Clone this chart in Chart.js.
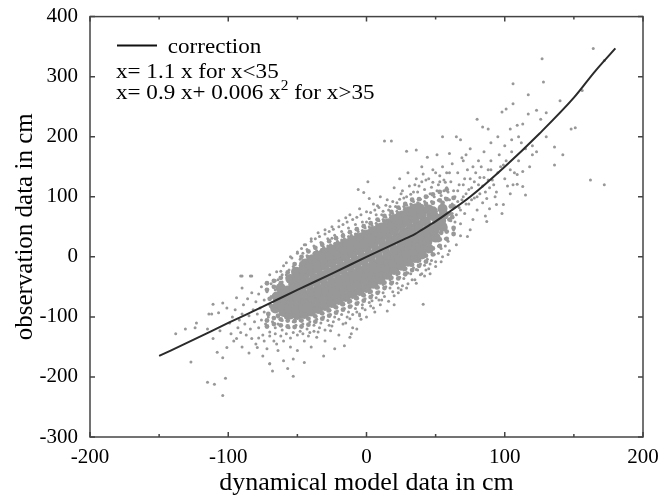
<!DOCTYPE html>
<html>
<head>
<meta charset="utf-8">
<script src="https://cdn.jsdelivr.net/npm/chart.js@4.4.0/dist/chart.umd.min.js"></script>
<style>
  html, body { margin: 0; padding: 0; background: #fff; }
</style>
</head>
<body>
<canvas id="chart" width="661" height="498"></canvas>
<script>
// correction curve
const curveX = [-150, -125, -100, -75, -50, -25, 0, 25, 35, 40, 45, 50, 60, 75, 100, 125, 150, 165, 180];
const curveY = [-165, -138, -110, -83, -55, -28, 0, 27, 38, 45, 52, 59, 75, 100, 150, 205, 265, 308, 347];

// dense core of the cloud, column by column
const coreX = [
  -66, -64, -65,
  -60, -61, -59, -60, -62,
  -55, -56, -54, -55, -57, -53, -55,
  -50, -51, -49, -50, -52, -48, -50, -51,
  -45, -46, -44, -45, -47, -43, -45, -46, -44,
  -40, -41, -39, -40, -42, -38, -40, -41, -39,
  -35, -36, -34, -35, -37, -33, -35, -36, -34,
  -30, -31, -29, -30, -32, -28, -30, -31, -29,
  -25, -26, -24, -25, -27, -23, -25, -26, -24,
  -20, -21, -19, -20, -22, -18, -20, -21, -19,
  -15, -16, -14, -15, -17, -13, -15, -16, -14,
  -10, -11, -9, -10, -12, -8, -10, -11, -9,
  -5, -6, -4, -5, -7, -3, -5, -6, -4,
  0, -1, 1, 0, -2, 2, 0, -1, 1,
  5, 4, 6, 5, 3, 7, 5, 4, 6,
  10, 9, 11, 10, 8, 12, 10, 9, 11,
  15, 14, 16, 15, 13, 17, 15, 14, 16,
  20, 19, 21, 20, 18, 22, 20, 19, 21,
  25, 24, 26, 25, 23, 27, 25, 24, 26,
  30, 29, 31, 30, 28, 32, 30, 29, 31,
  35, 34, 36, 35, 33, 37, 35, 34, 36,
  40, 39, 41, 40, 38, 42, 40, 39,
  45, 44, 46, 45, 43, 47, 45,
  50, 49, 51, 50, 48,
  55, 54, 56, 55
];
const coreY = [
  -86, -76, -66,
  -92, -82, -72, -62, -52,
  -96, -86, -76, -66, -56, -46, -37,
  -97, -87, -77, -66, -56, -45, -35, -25,
  -95, -85, -74, -63, -53, -42, -31, -21, -11,
  -91, -80, -69, -58, -47, -36, -25, -14, -4,
  -87, -76, -64, -53, -42, -31, -20, -9, 2,
  -82, -71, -59, -48, -37, -26, -15, -4, 7,
  -77, -66, -54, -43, -32, -21, -10, 1, 12,
  -72, -61, -49, -38, -27, -16, -5, 6, 17,
  -67, -55, -44, -33, -22, -11, 0, 11, 22,
  -62, -50, -39, -28, -17, -6, 5, 16, 27,
  -57, -45, -34, -23, -12, -1, 10, 21, 32,
  -52, -40, -29, -18, -7, 4, 15, 26, 37,
  -45, -34, -23, -12, -1, 10, 21, 32, 43,
  -38, -27, -16, -5, 6, 17, 28, 39, 49,
  -30, -19, -8, 3, 14, 25, 36, 47, 56,
  -22, -11, 0, 11, 22, 33, 44, 55, 63,
  -15, -4, 7, 18, 29, 40, 51, 62, 69,
  -8, 3, 14, 25, 36, 47, 58, 69, 76,
  -2, 9, 20, 31, 42, 53, 64, 75, 81,
  4, 15, 26, 37, 48, 59, 70, 80,
  14, 25, 36, 47, 58, 69, 79,
  32, 43, 54, 65, 76,
  50, 60, 70, 80
];

// half-dense band hugging the core
const upperEdge = [
  [-72,-55],[-72,-44],[-67,-50],[-67,-40],[-62,-44],[-62,-35],[-57,-35],[-57,-26],[-52,-24],[-52,-12],
  [-47,-11],[-47,0],[-42,-1],[-42,9],[-37,6],[-37,15],[-32,11],[-32,20],[-27,16],[-27,26],
  [-22,21],[-22,31],[-17,26],[-17,35],[-12,31],[-12,41],[-7,36],[-7,46],[-2,41],[-2,51],
  [3,46],[3,56],[8,52],[8,62],[13,59],[13,68],[18,66],[18,75],[23,72],[23,82],
  [28,79],[28,88],[33,85],[33,95],[38,87],[38,96],[43,88],[43,100],[48,90],[48,104],
  [53,94],[53,108],[58,96],[58,112],[63,98],[63,84],
  [-70,-70],[-69,-82],[-71,-95],[-64,-98],[-63,-60],[-58,-100],[55,90],[60,62],[60,72],[61,84],
  [52,28],[54,40],[57,48],[62,66]
];
const lowerEdge = [
  [-72,-106],[-72,-116],[-67,-102],[-67,-112],[-62,-104],[-62,-114],[-57,-106],[-57,-116],[-52,-107],[-52,-117],
  [-47,-106],[-47,-116],[-42,-103],[-42,-113],[-37,-99],[-37,-108],[-32,-94],[-32,-103],[-27,-89],[-27,-98],
  [-22,-84],[-22,-93],[-17,-79],[-17,-88],[-12,-74],[-12,-83],[-7,-69],[-7,-78],[-2,-64],[-2,-73],
  [3,-58],[3,-67],[8,-51],[8,-60],[13,-43],[13,-52],[18,-35],[18,-44],[23,-27],[23,-36],
  [28,-20],[28,-29],[33,-13],[33,-22],[38,-6],[38,-15],[43,2],[43,-8],[48,14],[48,4],
  [53,29],[53,18],[58,42],[58,30],[63,48],[63,38]
];

// looser dots further out
const upperFringe = [
  [-64,-48],[-64,-38],[-61,-42],[-61,-30],[-57,-34],[-56,-22],[-53,-28],[-53,-16],[-51,-20],[-48,-14],
  [-48,-4],[-46,-6],[-46,6],[-43,2],[-43,12],[-41,-2],[-38,6],[-38,18],[-36,10],[-33,10],
  [-33,24],[-31,16],[-28,18],[-28,30],[-26,20],[-23,22],[-23,36],[-21,26],[-18,28],[-18,42],
  [-16,30],[-13,34],[-13,48],[-11,36],[-8,38],[-8,54],[-6,42],[-3,44],[-3,58],[-1,48],
  [2,50],[2,64],[4,52],[7,56],[7,70],[9,60],[12,62],[12,76],[14,66],[17,70],
  [17,84],[19,72],[22,76],[22,90],[24,80],[27,84],[27,98],[29,86],[32,88],[32,104],
  [34,92],[37,90],[37,108],[39,96],[42,92],[42,112],[44,100],[47,92],[47,116],[49,100],
  [52,94],[52,120],[54,102],[57,98],[57,124],[59,108],
  [45,130],[50,140],[55,150],[60,140],[62,155],[48,145],[53,125],[66,140],[69,165],[72,170],
  [85,175],[90,145],[100,185],[105,195],[110,200],[115,180],[40,125],[35,120],[25,105],[15,95],
  [8,85],[0,75],[-5,80],[-15,65],[-25,50],[-35,40],[-45,20],[-55,0],[-60,-15],[-65,-25],
  [-58,-10],[-54,-2],[-50,8],[-47,14],[-44,20],[-40,26],[-37,30],[-34,34],[-30,38],[-27,42],
  [-24,46],[-20,50],[-17,54],[-14,58],[-10,62],[-7,66],[-4,70],[0,58],[3,74],[6,78],
  [9,82],[11,70],[14,86],[16,78],[19,92],[21,84],[24,96],[26,110],[29,100],[31,118],
  [34,108],[36,130],[38,118],[41,138],[43,128],[46,105],[48,124],[51,110],[53,135],[56,128],
  [58,140],[61,125],[-62,-24],[-58,-30],[-66,-40],[-70,-30]
];
const lowerFringe = [
  [-64,-100],[-64,-112],[-61,-106],[-61,-122],[-57,-104],[-56,-118],[-53,-108],[-53,-126],[-51,-114],[-48,-106],
  [-48,-124],[-46,-112],[-43,-102],[-43,-120],[-41,-108],[-38,-98],[-38,-114],[-36,-104],[-33,-94],[-33,-110],
  [-31,-100],[-28,-90],[-28,-106],[-26,-96],[-23,-84],[-23,-100],[-21,-90],[-18,-80],[-18,-96],[-16,-86],
  [-13,-76],[-13,-92],[-11,-82],[-8,-70],[-8,-86],[-6,-76],[-3,-64],[-3,-80],[-1,-70],[2,-60],
  [2,-76],[4,-64],[7,-52],[7,-68],[9,-58],[12,-46],[12,-60],[14,-50],[17,-38],[17,-52],
  [19,-42],[22,-30],[22,-44],[24,-34],[27,-22],[27,-36],[29,-26],[32,-14],[32,-28],[34,-18],
  [37,-8],[37,-22],[39,-12],[42,0],[42,-14],[44,-4],[47,8],[47,-6],[49,4],[52,18],
  [52,6],[54,14],[57,30],[57,18],[59,26],
  [-90,-150],[-85,-160],[-75,-165],[-65,-145],[-60,-140],[-55,-150],[-45,-140],[-35,-125],[-25,-115],[-15,-110],
  [-5,-95],[5,-85],[10,-80],[20,-65],[25,-55],[30,-45],[35,-38],[40,-28],[45,-20],[50,-8],
  [55,0],[60,10],[65,20],[68,35],[75,45],
  [-78,-135],[-74,-140],[-70,-132],[-66,-128],[-62,-132],[-58,-128],[-55,-135],[-50,-130],[-46,-128],[-42,-132],
  [-38,-124],[-34,-118],[-30,-122],[-27,-114],[-24,-108],[-20,-104],[-17,-112],[-14,-100],[-10,-96],[-7,-92],
  [-4,-104],[-1,-88],[3,-82],[6,-92],[9,-72],[13,-66],[16,-74],[19,-58],[23,-60],[26,-48],
  [29,-52],[33,-38],[36,-44],[39,-30],[43,-22],[46,-28],[50,-16],[54,-8]
];
const leftTail = [
  [-138,-128],[-131,-120],[-127,-175],[-124,-118],[-123,-110],[-115,-209],[-115,-120],[-114,-95],[-112,-95],[-111,-79],
  [-111,-136],[-110,-212],[-108,-159],[-107,-93],[-106,-123],[-104,-77],[-104,-168],[-104,-231],[-102,-202],[-101,-151],
  [-101,-85],[-99,-110],[-98,-128],[-97,-100],[-96,-140],[-95,-88],[-94,-68],[-94,-136],[-93,-118],[-92,-105],
  [-91,-126],[-91,-32],[-90,-52],[-90,-95],[-89,-80],[-88,-112],[-87,-130],[-86,-70],[-85,-98],[-84,-32],
  [-84,-120],[-83,-136],[-83,-60],[-82,-88],[-81,-108],[-80,-75],[-80,-145],[-79,-151],[-79,-95],[-78,-62],
  [-78,-118],[-77,-85],[-76,-105],[-76,-50],[-75,-130],[-74,-72],[-74,-92],[-73,-112],[-72,-153],[-72,-58],
  [-71,-100],[-70,-80],[-70,-178],[-70,-125],[-69,-45],[-69,-66],[-68,-190],[-68,-108],[-67,-88],[-67,-140],
  [-66,-55],[-66,-118]
];
const rightTail = [
  [61,60],[62,88],[63,45],[64,100],[65,70],[66,110],[67,82],[68,55],[69,95],[70,120],
  [71,72],[72,105],[73,34],[74,88],[75,130],[76,115],[77,62],[78,98],[79,140],[80,78],
  [81,120],[82,105],[83,150],[84,90],[85,132],[86,68],[87,97],[87,59],[88,145],[89,80],
  [89,115],[90,160],[91,128],[92,120],[93,100],[94,108],[94,87],[95,140],[96,170],[97,150],
  [98,72],[99,153],[99,87],[100,130],[101,160],[102,118],[104,145],[104,105],[105,175],[106,120],
  [107,140],[109,137],[109,121],[110,160],[113,142],[113,117],[115,103],[118,150],[120,185],[112,190],
  [62,72],[64,58],[66,92],[68,78],[70,100],[72,88],[74,112],[76,95],[78,125],[80,100],
  [82,132],[84,118],[86,108],[88,128],[60,95],[63,110],[67,120],[71,130],[58,115],[56,110],
  [73,145],[77,150],[81,160]
];
const outliers = [
  [-6,112],[-2,107],[1,125],[2,97],[13,193],[18,193],[24,130],[29,176],[36,178],[44,166],
  [51,170],[55,200],[60,172],[65,200],[68,195],[80,229],[84,216],[88,213],[98,241],[101,246],
  [104,213],[106,255],[106,288],[109,219],[113,221],[117,238],[117,270],[120,170],[123,175],[123,244],
  [126,229],[127,330],[128,291],[130,240],[136,183],[136,153],[142,170],[148,213],[151,215],[156,277],
  [164,347],[172,327],[162,128],[172,120],[-50,6],[-32,23],[-25,31],[-17,38],[-90,-32],[-83,-32],
  [5,88],[10,100],[-12,70],[-20,60],[-30,45],[-40,30],[30,140],[40,150],[20,115],[70,160],
  [75,180],[90,190],[95,200],[140,260],[130,200],
  [41,-79],[42,-32],[23,-52],[11,-72],[-10,-118],[-7,-120],[-11,-128],[-12,-103],[-5,-98],[-3,-85],
  [4,-73],[-53,-199],[-57,-186],[-70,-178],[-60,-173],[-53,-170],[-45,-176],[-50,-156],[-31,-165],[-23,-153],
  [-16,-148],[-12,-134],[-26,-123],[-36,-134],[-41,-126],[-64,-156],[30,-27],[36,-21],[46,-12],[59,4],
  [20,-80],[-20,-130],[-30,-140],[0,-100],[15,-90],[-40,-150]
];

const dotColor = 'rgb(152,152,152)';
const serif = '"Liberation Serif", "Times New Roman", serif';

const toXY = list => list.map(p => ({ x: p[0], y: p[1] }));

// inward ticks, frame and the in-plot legend
const frameTicksLegend = {
  id: 'frameTicksLegend',
  afterDraw(chart) {
    const { ctx, chartArea: a, scales: { x, y } } = chart;
    ctx.save();
    ctx.strokeStyle = '#444';
    ctx.lineWidth = 1.5;
    ctx.strokeRect(a.left, a.top, a.right - a.left, a.bottom - a.top);

    x.ticks.forEach(t => {
      const px = x.getPixelForValue(t.value);
      const len = t.value % 100 === 0 ? 5 : 3;
      ctx.beginPath();
      ctx.moveTo(px, a.bottom); ctx.lineTo(px, a.bottom - len);
      ctx.moveTo(px, a.top); ctx.lineTo(px, a.top + len);
      ctx.stroke();
    });
    y.ticks.forEach(t => {
      const py = y.getPixelForValue(t.value);
      ctx.beginPath();
      ctx.moveTo(a.left, py); ctx.lineTo(a.left + 5, py);
      ctx.moveTo(a.right, py); ctx.lineTo(a.right - 5, py);
      ctx.stroke();
    });

    // legend, text slightly widened like the original figure
    const lx = a.left + 27;
    ctx.strokeStyle = '#111';
    ctx.lineWidth = 2;
    ctx.beginPath();
    ctx.moveTo(lx, a.top + 29); ctx.lineTo(lx + 40, a.top + 29);
    ctx.stroke();
    ctx.fillStyle = '#000';
    ctx.textBaseline = 'alphabetic';
    ctx.translate(lx - 1, 0);
    ctx.scale(1.1, 1);
    ctx.font = '21px ' + serif;
    ctx.fillText('correction', 47, a.top + 36);
    ctx.fillText('x= 1.1 x for x<35', 0, a.top + 61);
    const part1 = 'x= 0.9 x+ 0.006 x';
    ctx.fillText(part1, 0, a.top + 82);
    let w = ctx.measureText(part1).width;
    ctx.font = '14px ' + serif;
    ctx.fillText('2', w, a.top + 73);
    w += ctx.measureText('2').width;
    ctx.font = '21px ' + serif;
    ctx.fillText(' for x>35', w, a.top + 82);
    ctx.restore();
  }
};

new Chart(document.getElementById('chart'), {
  type: 'scatter',
  data: {
    datasets: [
      {
        label: 'correction',
        data: curveX.map((v, i) => ({ x: v, y: curveY[i] })),
        showLine: true,
        borderColor: '#2b2b2b',
        borderWidth: 2,
        pointRadius: 0,
        cubicInterpolationMode: 'monotone'
      },
      {
        label: 'core',
        data: coreX.map((v, i) => ({ x: v, y: coreY[i] })),
        backgroundColor: dotColor,
        borderWidth: 0,
        pointRadius: 5
      },
      {
        label: 'edge',
        data: toXY([].concat(upperEdge, lowerEdge)),
        backgroundColor: dotColor,
        borderWidth: 0,
        pointRadius: 2.4
      },
      {
        label: 'cloud',
        data: toXY([].concat(upperFringe, lowerFringe, leftTail, rightTail, outliers)),
        backgroundColor: dotColor,
        borderWidth: 0,
        pointRadius: 1.5
      }
    ]
  },
  options: {
    responsive: false,
    animation: false,
    devicePixelRatio: 1,
    layout: { padding: { left: 0, top: 14, right: 18, bottom: 0 } },
    plugins: {
      legend: { display: false },
      tooltip: { enabled: false }
    },
    scales: {
      x: {
        type: 'linear',
        min: -200,
        max: 200,
        grid: { display: false },
        border: { display: false },
        ticks: {
          stepSize: 50,
          autoSkip: false,
          maxRotation: 0,
          padding: 0,
          color: '#000',
          font: { family: serif, size: 21 },
          callback: v => (v % 100 === 0 ? v : '')
        },
        title: {
          display: true,
          text: 'dynamical model data in cm',
          color: '#000',
          font: { family: serif, size: 26 },
          padding: { top: 0, bottom: -1 }
        },
        afterFit: s => { s.height = 61; }
      },
      y: {
        type: 'linear',
        min: -300,
        max: 400,
        grid: { display: false },
        border: { display: false },
        ticks: {
          stepSize: 100,
          padding: 4,
          color: '#000',
          font: { family: serif, size: 21 }
        },
        title: {
          display: true,
          text: 'observation data in cm',
          color: '#000',
          font: { family: serif, size: 25 },
          padding: { top: 10, bottom: 0 }
        },
        afterFit: s => { s.width = 90; }
      }
    }
  },
  plugins: [frameTicksLegend]
});
</script>
</body>
</html>
